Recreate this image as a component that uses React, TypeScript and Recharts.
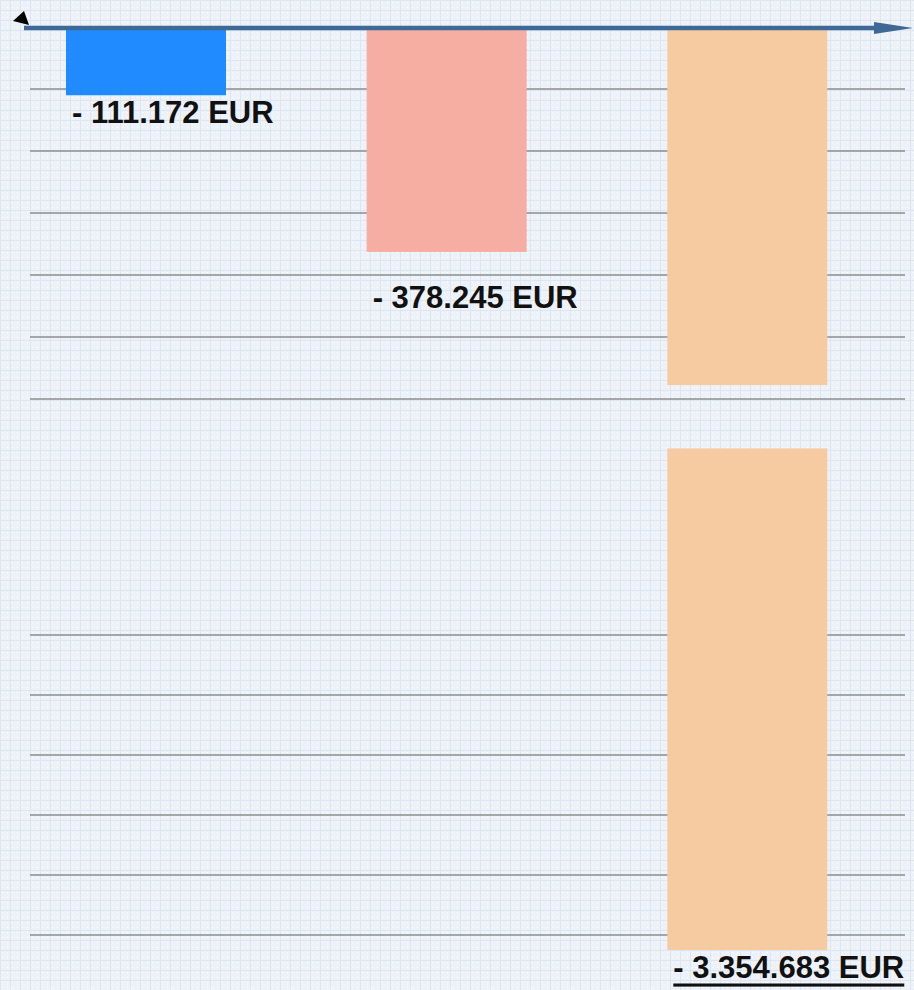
import { BarChart, Bar, XAxis, YAxis, CartesianGrid, ReferenceLine, LabelList, Cell } from "recharts";

const categories = ["Posten A", "Posten B", "Posten C"];
const losses = [-111172, -378245, -3354683];
const colors = ["#1f8bff", "#f6aea2", "#f7cba1"];
// decorative horizontal rules (pixel rows)
const gridRows = [89, 151, 213, 275, 337, 399, 635, 695, 755, 815, 875, 935];

// broken value axis: values between BREAK_FROM and BREAK_TO are skipped
const BREAK_FROM = 605000;
const BREAK_TO = 2500000;
const BREAK_GAP = 108000;

function toPlot(v: number) {
    const m = Math.abs(v);
    if (m <= BREAK_FROM) return -m;
    if (m < BREAK_TO) return -BREAK_FROM;
    return -(m - (BREAK_TO - BREAK_FROM) + BREAK_GAP);
}

function formatEur(v: number) {
    const s = Math.abs(v).toString().replace(/\B(?=(\d{3})+(?!\d))/g, ".");
    return `${v < 0 ? "- " : ""}${s} EUR`;
}

const data = categories.map((name, i) => ({ name, loss: losses[i], plot: toPlot(losses[i]) }));
const minPlot = Math.min(...data.map(d => d.plot));

const FONT = "'Liberation Sans', Arial, Helvetica, sans-serif";

function BrokenBar(props: any) {
    const { x, y, width, height, fill, payload } = props;
    const top = Math.min(y, y + height);
    const bottom = Math.max(y, y + height);
    const m = Math.abs(payload.loss);
    if (m < BREAK_TO) {
        return <rect x={x} y={top} width={width} height={bottom - top} fill={fill} />;
    }
    const px = (bottom - top) / Math.abs(payload.plot);
    const cut1 = top + BREAK_FROM * px;
    const cut2 = cut1 + BREAK_GAP * px;
    return (
        <g>
            <rect x={x} y={top} width={width} height={cut1 - top} fill={fill} />
            <rect x={x} y={cut2} width={width} height={bottom - cut2} fill={fill} />
        </g>
    );
}

function ValueLabel(props: any) {
    const x = Number(props.x);
    const y = Number(props.y);
    const h = Number(props.height);
    const index = props.index as number;
    const bottom = Math.max(y, y + h);
    let cy = bottom + 17;
    const hit = gridRows.find(g => Math.abs(g - cy) < 14);
    if (hit !== undefined) cy = hit + 22;
    return (
        <text
            x={x + 6}
            y={cy}
            dominantBaseline="central"
            fontFamily={FONT}
            fontWeight="bold"
            fontSize={31}
            fill="#111"
            textDecoration={index === losses.length - 1 ? "underline" : undefined}
        >
            {formatEur(losses[index])}
        </text>
    );
}

function ZeroAxis(props: any) {
    const y = Number(props.y1) - 2;
    return (
        <g>
            <line x1={24} y1={y} x2={878} y2={y} stroke="#3e6896" strokeWidth={4.5} />
            <polygon points={`874,${y - 6} 913,${y} 874,${y + 6}`} fill="#3e6896" />
            <polygon points={`24,${y - 17} 13,${y - 7} 29,${y - 3}`} fill="#000" />
        </g>
    );
}

export default function App() {
    return (
        <div
            style={{
                position: "absolute",
                left: 0,
                top: 0,
                width: 914,
                height: 990,
                backgroundColor: "#edf2f9",
                backgroundImage:
                    "radial-gradient(circle, rgba(255,255,255,0.9) 0.7px, transparent 1px)," +
                    "linear-gradient(#dde6f2 1px, transparent 1px)," +
                    "linear-gradient(90deg, #dde6f2 1px, transparent 1px)",
                backgroundSize: "5px 5px, 10px 10px, 10px 10px",
            }}
        >
            <BarChart
                width={914}
                height={990}
                data={data}
                margin={{ top: 30, right: 16, bottom: 40, left: -4 }}
                barSize={160}
            >
                <CartesianGrid
                    vertical={false}
                    horizontalPoints={gridRows}
                    horizontal={(p: any) => (
                        <line
                            key={`h-${p.y1}`}
                            x1={30}
                            x2={905}
                            y1={p.y1}
                            y2={p.y2}
                            stroke="#8b8c8e"
                            strokeWidth={1.5}
                        />
                    )}
                />
                <XAxis dataKey="name" hide />
                <YAxis hide type="number" domain={[minPlot, 0]} />
                <Bar dataKey="plot" shape={BrokenBar} isAnimationActive={false}>
                    {data.map((d, i) => (
                        <Cell key={d.name} fill={colors[i]} />
                    ))}
                    <LabelList dataKey="loss" content={ValueLabel} />
                </Bar>
                <ReferenceLine y={0} shape={ZeroAxis} />
            </BarChart>
        </div>
    );
}
